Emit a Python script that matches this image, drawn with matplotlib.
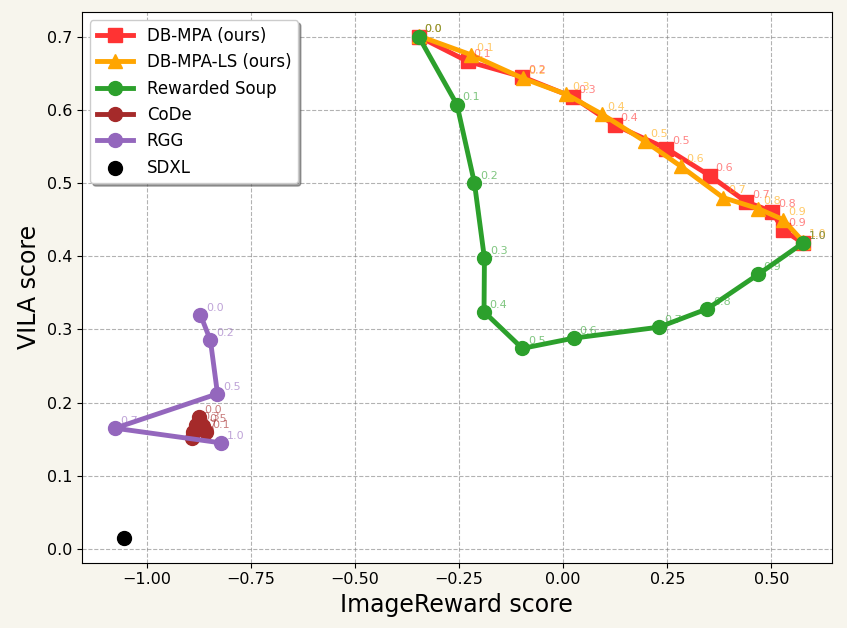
import numpy as np
import matplotlib
matplotlib.use("Agg")
import matplotlib.pyplot as plt

# DB-MPA (ours)
mpa_lam = [0.0, 0.1, 0.2, 0.3, 0.4, 0.5, 0.6, 0.7, 0.8, 0.9, 1.0]
mpa_x = [-0.347, -0.229, -0.098, 0.024, 0.124, 0.248, 0.352, 0.440, 0.502, 0.527, 0.576]
mpa_y = [0.700, 0.666, 0.645, 0.617, 0.579, 0.547, 0.510, 0.474, 0.461, 0.436, 0.418]

# DB-MPA-LS (ours)
ls_lam = [0.0, 0.1, 0.2, 0.3, 0.4, 0.5, 0.6, 0.7, 0.8, 0.9, 1.0]
ls_x = [-0.347, -0.221, -0.097, 0.008, 0.093, 0.196, 0.282, 0.384, 0.468, 0.528, 0.576]
ls_y = [0.701, 0.675, 0.643, 0.621, 0.594, 0.557, 0.523, 0.480, 0.465, 0.450, 0.420]

# Rewarded Soup
rs_lam = [0.0, 0.1, 0.2, 0.3, 0.4, 0.5, 0.6, 0.7, 0.8, 0.9, 1.0]
rs_x = [-0.347, -0.255, -0.213, -0.189, -0.190, -0.098, 0.025, 0.230, 0.346, 0.468, 0.576]
rs_y = [0.700, 0.607, 0.500, 0.397, 0.324, 0.274, 0.288, 0.303, 0.328, 0.375, 0.418]

# CoDe
code_lam = [0.0, 0.3, 0.5, 0.1, 0.7, 1.0]
code_x = [-0.874, -0.881, -0.864, -0.857, -0.888, -0.891]
code_y = [0.180, 0.170, 0.168, 0.160, 0.160, 0.152]

# RGG
rgg_lam = [0.0, 0.2, 0.5, 0.7, 1.0]
rgg_x = [-0.871, -0.847, -0.830, -1.076, -0.822]
rgg_y = [0.320, 0.285, 0.212, 0.165, 0.145]

# SDXL
sdxl_x = [-1.054]
sdxl_y = [0.015]

fig = plt.figure(figsize=(8.47, 6.28), dpi=100, facecolor="#f7f5ed")
ax = fig.add_axes([0.0965, 0.104, 0.8855, 0.877])
ax.set_facecolor("white")

series = [
    ("DB-MPA (ours)", mpa_lam, mpa_x, mpa_y, "#ff3333", "s"),
    ("DB-MPA-LS (ours)", ls_lam, ls_x, ls_y, "orange", "^"),
    ("Rewarded Soup", rs_lam, rs_x, rs_y, "tab:green", "o"),
    ("CoDe", code_lam, code_x, code_y, "#a52a2a", "o"),
    ("RGG", rgg_lam, rgg_x, rgg_y, "tab:purple", "o"),
]

for name, lam, xs, ys, c, m in series:
    ax.plot(xs, ys, color=c, marker=m, lw=3.5, ms=10, label=name)
    for l, x, y in zip(lam, xs, ys):
        ax.annotate(f"{l:.1f}", (x, y), xytext=(4, 3), textcoords="offset points",
                    color=c, alpha=0.6, fontsize=8)

ax.scatter(sdxl_x, sdxl_y, color="black", s=100, label="SDXL", zorder=3)

ax.set_xlim(-1.156, 0.645)
ax.set_ylim(-0.0187, 0.7336)
ax.grid(True, linestyle="--", color="gray", alpha=0.6)
ax.tick_params(labelsize=11.5)
ax.set_xlabel("ImageReward score", fontsize=17)
ax.set_ylabel("VILA score", fontsize=17)
ax.legend(loc="upper left", fontsize=12, shadow=True, handlelength=2.2)

fig.savefig("out.png", dpi=100, facecolor=fig.get_facecolor())
